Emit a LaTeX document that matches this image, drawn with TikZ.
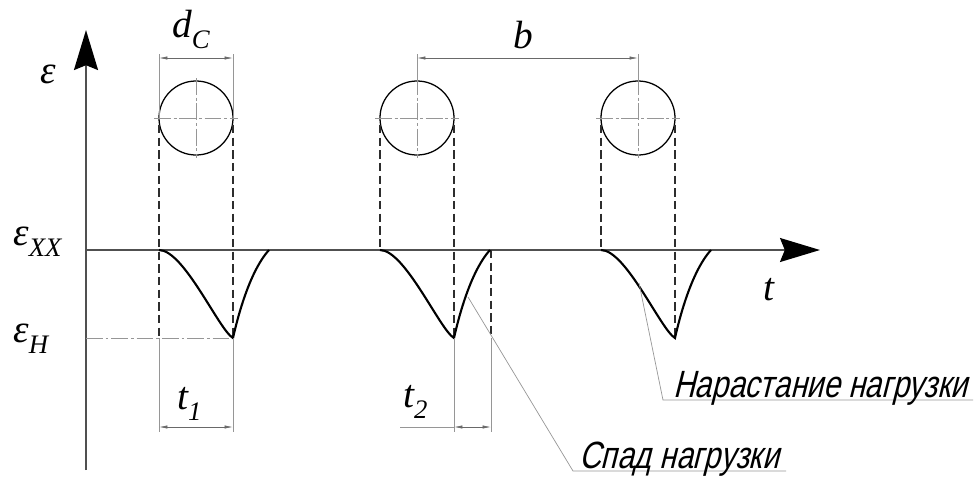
\documentclass[tikz,border=0pt]{standalone}
\usepackage{fontspec}
\usetikzlibrary{arrows.meta, positioning, calc}
\newfontfamily\gostfont[FakeSlant=0.25,FakeStretch=0.79]{Liberation Sans}
\newfontfamily\lblfont{Liberation Serif}
\definecolor{axisgray}{RGB}{80,80,80}
\definecolor{thingray}{RGB}{150,150,150}
\definecolor{dashdark}{RGB}{45,45,45}
% lowered subscript for the labels
\newcommand{\lo}[1]{\raisebox{-8pt}{\fontsize{19}{19}\selectfont\lblfont\itshape #1}}
\tikzset{
  axis/.style={line width=1.4pt, color=axisgray},
  bigtip/.style={-{Stealth[length=1cm,width=0.6cm,inset=0.12cm,color=black]}},
  pulse/.style={line width=1.5pt, color=black},
  proj/.style={line width=0.9pt, color=dashdark, dash pattern=on 6pt off 3pt},
  thinline/.style={line width=0.5pt, color=thingray},
  centre/.style={line width=0.5pt, color=thingray, dash pattern=on 12pt off 2pt on 2pt off 2pt},
  dimline/.style={line width=0.5pt, color=thingray!70!black,
    {Latex[length=6pt,width=2.4pt]}-{Latex[length=6pt,width=2.4pt]}},
  lbl/.style={font=\lblfont\itshape\fontsize{28}{30}\selectfont, inner sep=0pt, anchor=base west},
  note/.style={font=\gostfont\fontsize{27}{30}\selectfont, inner sep=0pt, anchor=base west}
}

\begin{document}
\begin{tikzpicture}[x=0.025cm, y=-0.025cm]
  \useasboundingbox (0,0) rectangle (976,476);

  % Axes
  \coordinate (ybot) at (86,470);
  \coordinate (ytop) at (86,30);
  \coordinate (orig) at (86,250);
  \coordinate (xend) at (820,250);
  \draw[axis, bigtip] (ybot) -- (ytop);
  \draw[line width=1.1pt, color=axisgray, bigtip] (orig) -- (xend);

  % Level of eps_H
  \coordinate (levH) at (86,338);
  \coordinate (min1) at (233,338);
  \draw[centre] (levH) -- (min1);

  % Rollers
  \foreach \n/\cx in {1/196, 2/417, 3/638} {
    \coordinate (c\n) at (\cx,118);
    \draw[line width=0.9pt] (c\n) circle [radius=0.925cm];
    \draw[centre] ($(c\n)+(-42,0)$) -- ($(c\n)+(42,0)$);
    \draw[centre] ($(c\n)+(0,-40)$) -- ($(c\n)+(0,40)$);
  }

  % Projection lines
  \foreach \x/\y in {159/338, 233/338, 380/250, 454/338, 601/250, 675/338}
    \draw[proj] (\x,125) -- (\x,\y);
  \draw[proj] (491,250) -- (491,338);

  % Pulses
  \foreach \s in {159,380,601}
    \draw[pulse] (\s,250) .. controls (\s+25,250) and (\s+60,330) .. (\s+74,338)
      .. controls (\s+78,320) and (\s+90,272) .. (\s+110,250);

  % Dimension d_C
  \draw[thinline] (159,118) -- (159,54);
  \draw[thinline] (233,118) -- (233,54);
  \draw[dimline] (159,58) -- (233,58);
  \node[lbl] (dC) at (172,37) {d\lo{C}};

  % Dimension b
  \draw[thinline] (417,78) -- (417,54);
  \draw[thinline] (638,78) -- (638,54);
  \draw[dimline] (417,58) -- (638,58);
  \node[lbl] (bdim) at (513,48) {b};

  % Dimension t_1
  \draw[thinline] (159,338) -- (159,432);
  \draw[thinline] (233,338) -- (233,432);
  \draw[dimline] (159,427) -- (233,427);
  \node[lbl] (tone) at (177,409) {t\lo{1}};

  % Dimension t_2
  \draw[thinline] (454,338) -- (454,432);
  \draw[thinline] (491,338) -- (491,432);
  \draw[thinline] (400,427) -- (454,427);
  \draw[dimline] (454,427) -- (491,427);
  \node[lbl] (ttwo) at (403,407) {t\lo{2}};

  % Axis labels
  \node[lbl] (eps) at (40,83) {ε};
  \node[lbl] (epsXX) at (13,245) {ε\lo{XX}};
  \node[lbl] (epsH) at (13,342) {ε\lo{H}};
  \node[lbl] (tax) at (763,300) {t};

  % Leaders
  \coordinate (rise) at (639,283);
  \coordinate (riseK) at (663,400);
  \coordinate (riseE) at (973,400);
  \draw[thinline] (rise) -- (riseK) -- (riseE);
  \node[note] (riseT) at (673,397) {Нарастание нагрузки};

  \coordinate (fall) at (468,297);
  \coordinate (fallK) at (573,471);
  \coordinate (fallE) at (786,471);
  \draw[thinline] (fall) -- (fallK) -- (fallE);
  \node[note] (fallT) at (579,468) {Спад нагрузки};
\end{tikzpicture}
\end{document}
